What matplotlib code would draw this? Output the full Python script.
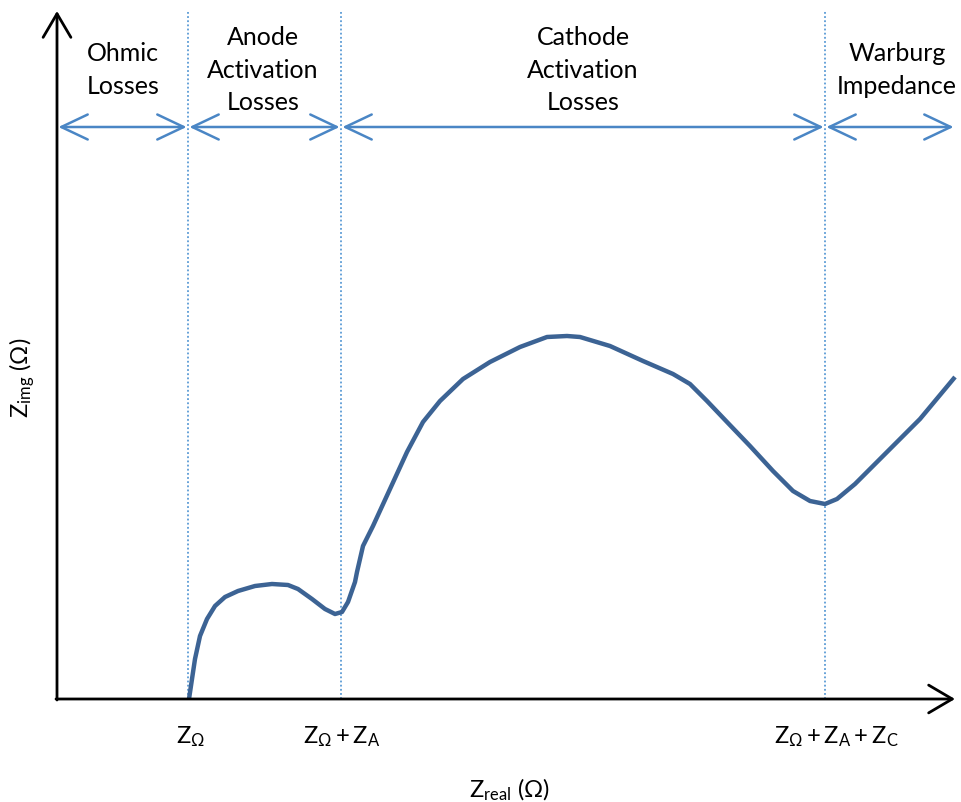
import matplotlib
matplotlib.use("Agg")
import matplotlib.pyplot as plt

plt.rcParams['font.family'] = ['Lato', 'DejaVu Sans']
plt.rcParams['mathtext.fontset'] = 'custom'
plt.rcParams['mathtext.rm'] = 'Lato'
plt.rcParams['mathtext.it'] = 'Lato'

# Curva de impedancia (unidades arbitrarias)
z_real = [132, 135, 138, 143, 150, 158, 168, 181, 198, 215, 231, 241, 255, 268, 278,
          285, 291, 298, 300, 306, 316, 333, 350, 366, 383, 406, 433, 463, 490, 510,
          523, 553, 586, 616, 633, 650, 670, 693, 716, 736, 753, 768, 780, 798, 820,
          863, 898]
z_img = [0, 20, 40, 63, 80, 93, 102, 108, 113, 115, 114, 110, 100, 90, 85,
         87, 97, 117, 127, 153, 173, 210, 247, 277, 298, 320, 337, 352, 362, 363,
         362, 353, 338, 325, 315, 298, 277, 253, 228, 208, 198, 195, 200, 215, 237,
         280, 322]

# Limites entre regiones
limites = [0, 131, 284, 768, 898]
marcas = [r'$\mathregular{Z_{\Omega}}$',
          r'$\mathregular{Z_{\Omega}+Z_{A}}$',
          r'$\mathregular{Z_{\Omega}+Z_{A}+Z_{C}}$']
regiones = ["Ohmic\nLosses", "Anode\nActivation\nLosses",
            "Cathode\nActivation\nLosses", "Warburg\nImpedance"]

azul_flecha = "#4a86c5"
azul_linea = "#3c6394"
azul_punteado = "#5b9bd5"

fig = plt.figure(figsize=(9.61, 8.03), dpi=100)
ax = fig.add_axes([0, 0, 1, 1])
ax.set_xlim(-57, 904)
ax.set_ylim(-103, 700)
ax.axis("off")

# Ejes con flecha
ejes = dict(arrowstyle="->,head_length=0.85,head_width=0.5", lw=2, color="black",
            mutation_scale=20, shrinkA=0, shrinkB=0)
ax.annotate("", xy=(0, 688), xytext=(0, -1), arrowprops=ejes)
ax.annotate("", xy=(898, 0), xytext=(-1, 0), arrowprops=ejes)

# Lineas punteadas verticales
for x in limites[1:4]:
    ax.plot([x, x], [0, 688], color=azul_punteado, lw=1.3, ls=(0, (1, 1.3)))

# Flechas de regiones y textos
flecha = dict(arrowstyle="<->,head_length=0.95,head_width=0.45", lw=1.8,
              color=azul_flecha, mutation_scale=20, shrinkA=1, shrinkB=1)
centros_texto = [66, 206, 526, 840]
for i in range(4):
    ax.annotate("", xy=(limites[i], 572), xytext=(limites[i + 1], 572), arrowprops=flecha)
    ax.text(centros_texto[i], 630, regiones[i], ha="center", va="center",
            fontsize=18, linespacing=1.5)

# Curva
ax.plot(z_real, z_img, color=azul_linea, lw=3.2, solid_joinstyle="round",
        solid_capstyle="butt")

# Etiquetas del eje x
for x, txt, dx in zip(limites[1:4], marcas, [2, 1, 11]):
    ax.text(x + dx, -37, txt, ha="center", va="center", fontsize=17)

ax.text(453, -90, r'$\mathregular{Z_{real}\ (\Omega)}$', ha="center", va="center", fontsize=17)
ax.text(-35, 322, r'$\mathregular{Z_{img}\ (\Omega)}$', ha="center", va="center",
        fontsize=17, rotation=90)

fig.savefig("out.png", dpi=100)
